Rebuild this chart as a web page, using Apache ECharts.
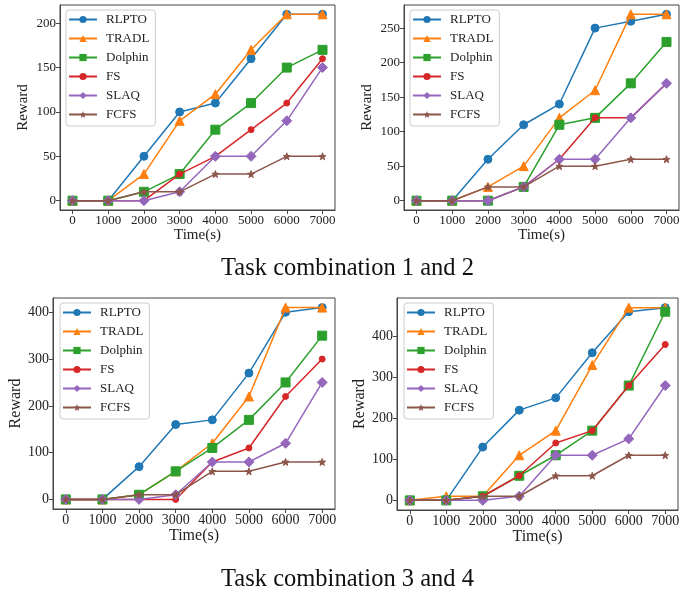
<!DOCTYPE html>
<html><head><meta charset="utf-8">
<script src="https://cdn.jsdelivr.net/npm/echarts@6/dist/echarts.min.js"></script>
<style>html,body{margin:0;padding:0;background:#fff}#c{width:695px;height:593px}</style>
</head><body><div id="c"></div>
<script>
const times = [0,1000,2000,3000,4000,5000,6000,7000];
const xTicks = [0,1000,2000,3000,4000,5000,6000,7000];
const names = ['RLPTO','TRADL','Dolphin','FS','SLAQ','FCFS'];

// Chart 1
const c1_RLPTO   = [0,0,50,100,110,160,210,210];
const c1_TRADL   = [0,0,30,90,120,170,210,210];
const c1_Dolphin = [0,0,10,30,80,110,150,170];
const c1_FS      = [0,0,0,30,50,80,110,160];
const c1_SLAQ    = [0,0,0,10,50,50,90,150];
const c1_FCFS    = [0,0,10,10,30,30,50,50];
const c1_yTicks  = [0,50,100,150,200];
// Chart 2
const c2_RLPTO   = [0,0,60,110,140,250,260,270];
const c2_TRADL   = [0,0,20,50,120,160,270,270];
const c2_Dolphin = [0,0,0,20,110,120,170,230];
const c2_FS      = [0,0,0,20,60,120,120,170];
const c2_SLAQ    = [0,0,0,20,60,60,120,170];
const c2_FCFS    = [0,0,20,20,50,50,60,60];
const c2_yTicks  = [0,50,100,150,200,250];
// Chart 3
const c3_RLPTO   = [0,0,70,160,170,270,400,410];
const c3_TRADL   = [0,0,10,60,120,220,410,410];
const c3_Dolphin = [0,0,10,60,110,170,250,350];
const c3_FS      = [0,0,0,0,80,110,220,300];
const c3_SLAQ    = [0,0,0,10,80,80,120,250];
const c3_FCFS    = [0,0,10,10,60,60,80,80];
const c3_yTicks  = [0,100,200,300,400];
// Chart 4
const c4_RLPTO   = [0,0,130,220,250,360,460,470];
const c4_TRADL   = [0,10,10,110,170,330,470,470];
const c4_Dolphin = [0,0,10,60,110,170,280,460];
const c4_FS      = [0,0,10,60,140,170,280,380];
const c4_SLAQ    = [0,0,0,10,110,110,150,280];
const c4_FCFS    = [0,0,10,10,60,60,110,110];
const c4_yTicks  = [0,100,200,300,400];

const captions = ['Task combination 1 and 2','Task combination 3 and 4'];

const charts = [
  {data:[c1_RLPTO,c1_TRADL,c1_Dolphin,c1_FS,c1_SLAQ,c1_FCFS], yTicks:c1_yTicks},
  {data:[c2_RLPTO,c2_TRADL,c2_Dolphin,c2_FS,c2_SLAQ,c2_FCFS], yTicks:c2_yTicks},
  {data:[c3_RLPTO,c3_TRADL,c3_Dolphin,c3_FS,c3_SLAQ,c3_FCFS], yTicks:c3_yTicks},
  {data:[c4_RLPTO,c4_TRADL,c4_Dolphin,c4_FS,c4_SLAQ,c4_FCFS], yTicks:c4_yTicks}
];

const colors = ['#1f77b4','#ff7f0e','#2ca02c','#d62728','#9467bd','#8c564b'];
const star = 'path://M0,-10L2.35,-3.24L9.51,-3.09L3.8,1.24L5.88,8.09L0,4L-5.88,8.09L-3.8,1.24L-9.51,-3.09L-2.35,-3.24Z';
const symbols = ['circle','triangle','rect','circle','diamond',star];
const symSizes = [8,9,9,6,10,7];

const layouts = [
  {left:60, top:5, width:275, height:205, font:13, nameFont:15, xGap:13, yGap:29, lg:{left:66, top:10}},
  {left:404, top:5, width:275, height:205, font:13, nameFont:15, xGap:13, yGap:29, lg:{left:410, top:10}},
  {left:53, top:298, width:282, height:211, font:14, nameFont:16, xGap:19, yGap:28, lg:{left:60, top:303}},
  {left:397, top:298, width:281, height:212, font:14, nameFont:16, xGap:19, yGap:28, lg:{left:404, top:303}}
];

const FONT = '"Liberation Serif","DejaVu Serif",serif';
const frame = '#444';
const grids=[], xAxes=[], yAxes=[], series=[], legends=[];
charts.forEach((ch, i) => {
  const L = layouts[i];
  grids.push({left:L.left, top:L.top, width:L.width, height:L.height, show:true, borderColor:frame, borderWidth:1, containLabel:false});
  let maxV = 0; ch.data.forEach(a => a.forEach(v => { if (v > maxV) maxV = v; }));
  const m = maxV * 0.05;
  xAxes.push({type:'value', gridIndex:i, min:-350, max:7350,
    name:'Time(s)', nameLocation:'middle', nameGap:L.xGap,
    nameTextStyle:{fontFamily:FONT, fontSize:L.nameFont, color:'#222'},
    axisLine:{show:true, onZero:false, lineStyle:{color:frame}},
    axisTick:{show:true, length:4, customValues:xTicks, lineStyle:{color:frame}},
    axisLabel:{customValues:xTicks, formatter:v => String(v), fontFamily:FONT, fontSize:L.font, color:'#222', margin:4},
    splitLine:{show:false}});
  yAxes.push({type:'value', gridIndex:i, min:-m, max:maxV+m,
    name:'Reward', nameLocation:'middle', nameGap:L.yGap, nameRotate:90,
    nameTextStyle:{fontFamily:FONT, fontSize:L.nameFont, color:'#222'},
    axisLine:{show:true, onZero:false, lineStyle:{color:frame}},
    axisTick:{show:true, length:4, customValues:ch.yTicks, lineStyle:{color:frame}},
    axisLabel:{customValues:ch.yTicks, formatter:v => String(v), fontFamily:FONT, fontSize:L.font, color:'#222', margin:4},
    splitLine:{show:false}});
  ch.data.forEach((vals, k) => {
    series.push({type:'line', name:names[k], xAxisIndex:i, yAxisIndex:i,
      data: times.map((t, j) => [t, vals[j]]),
      symbol:symbols[k], symbolSize:symSizes[k], showAllSymbol:true,
      color:colors[k], lineStyle:{width:1.5, color:colors[k]},
      itemStyle:{color:colors[k], borderColor:colors[k]}, animation:false, z:2+k});
  });
  legends.push({orient:'vertical', left:L.lg.left, top:L.lg.top, data:names,
    itemWidth:28, itemHeight:9, itemGap:6, padding:[3,6,5,2],
    backgroundColor:'#fff', borderColor:'#ccc', borderWidth:1, borderRadius:3,
    textStyle:{fontFamily:FONT, fontSize:13, color:'#222', lineHeight:12, padding:[0,0,0,4]},
    selectedMode:false});
});

const chart = echarts.init(document.getElementById('c'), null, {renderer:'canvas'});
chart.setOption({
  animation:false,
  backgroundColor:'#fff',
  grid:grids, xAxis:xAxes, yAxis:yAxes, series:series, legend:legends,
  graphic:[
    {type:'text', left:'center', top:256, style:{text:captions[0], font:'24.5px "Liberation Serif", serif', fill:'#111'}},
    {type:'text', left:'center', top:567, style:{text:captions[1], font:'24.5px "Liberation Serif", serif', fill:'#111'}}
  ]
});
</script></body></html>
